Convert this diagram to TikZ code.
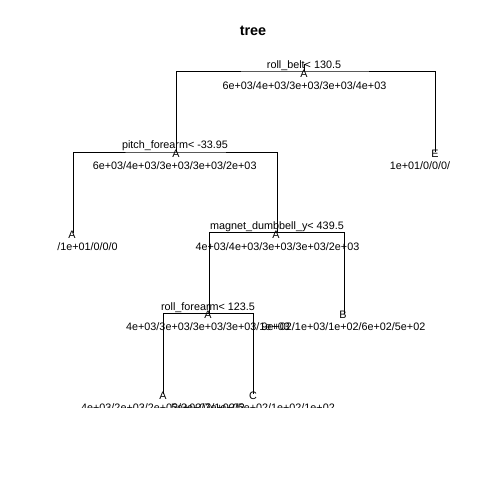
\documentclass[tikz,border=0pt]{standalone}
\usepackage{fontspec}
\setmainfont{Liberation Sans}

\begin{document}
\begin{tikzpicture}[x=1pt,y=-1pt,
        txt/.style={inner sep=0pt,anchor=base,font=\fontsize{10.8}{12}\selectfont},
        edge/.style={line width=0.8pt,black}]
    \useasboundingbox (0,0) rectangle (480,480);
    \node[inner sep=0pt,anchor=base,font=\fontsize{14.4}{16}\selectfont\bfseries] (title) at (253,35.5) {tree};

    \coordinate (rollbelttop) at (304,64);
    \coordinate (rollbelt) at (304,71);
    \coordinate (pitchfa) at (176,152);
    \coordinate (leafE) at (435,152);
    \coordinate (leafAa) at (73,232.5);
    \coordinate (magdb) at (277,232.5);
    \coordinate (rollfa) at (209,313.5);
    \coordinate (leafB) at (344,313.5);
    \coordinate (leafAb) at (163,393.5);
    \coordinate (leafC) at (253,393.5);

    \draw[edge] (rollbelttop) -- (rollbelt);
    \draw[edge] (pitchfa) |- (rollbelt) -| (leafE);
    \draw[edge] (leafAa) |- (pitchfa) -| (magdb);
    \draw[edge] (rollfa) |- (magdb) -| (leafB);
    \draw[edge] (leafAb) |- (rollfa) -| (leafC);

    \node[txt] (rollbeltsplit) at (304,68) {roll\_belt< 130.5};
    \node[txt] (rollbeltclass) at (304,77.5) {A};
    \node[txt] (rollbeltn) at (304.5,89) {6e+03/4e+03/3e+03/3e+03/4e+03};

    \node[txt] (pitchfasplit) at (175,148.5) {pitch\_forearm< -33.95};
    \node[txt] (pitchfaclass) at (176,157.7) {A};
    \node[txt] (pitchfan) at (174.7,169) {6e+03/4e+03/3e+03/3e+03/2e+03};

    \node[txt] (leafEclass) at (435,157.7) {E};
    \node[txt] (leafEn) at (420,169) {1e+01/0/0/0/};

    \node[txt] (leafAaclass) at (72,238.3) {A};
    \node[txt] (leafAan) at (87.5,250) {/1e+01/0/0/0};

    \node[txt] (magdbsplit) at (277,229) {magnet\_dumbbell\_y< 439.5};
    \node[txt] (magdbclass) at (276,238.3) {A};
    \node[txt] (magdbn) at (277.5,250) {4e+03/4e+03/3e+03/3e+03/2e+03};

    \node[txt] (rollfasplit) at (208,310) {roll\_forearm< 123.5};
    \node[txt] (rollfaclass) at (208,318.3) {A};
    \node[txt] (rollfan) at (208,330) {4e+03/3e+03/3e+03/3e+03/1e+03};

    \node[txt] (leafBclass) at (343,318.3) {B};
    \node[txt] (leafBn) at (343.5,330) {9e+02/1e+03/1e+02/6e+02/5e+02};

    \node[txt] (leafAbclass) at (163,399.3) {A};
    \node[txt] (leafCclass) at (253,399.3) {C};
    \begin{scope}
        \clip (0,0) rectangle (480,407);
        \node[txt] (leafAbn) at (163,411) {4e+03/2e+03/2e+03/3e+03/1e+03};
        \node[txt] (leafCn) at (253,411) {5e+02/7e+02/5e+02/1e+02/1e+02};
    \end{scope}
\end{tikzpicture}
\end{document}
